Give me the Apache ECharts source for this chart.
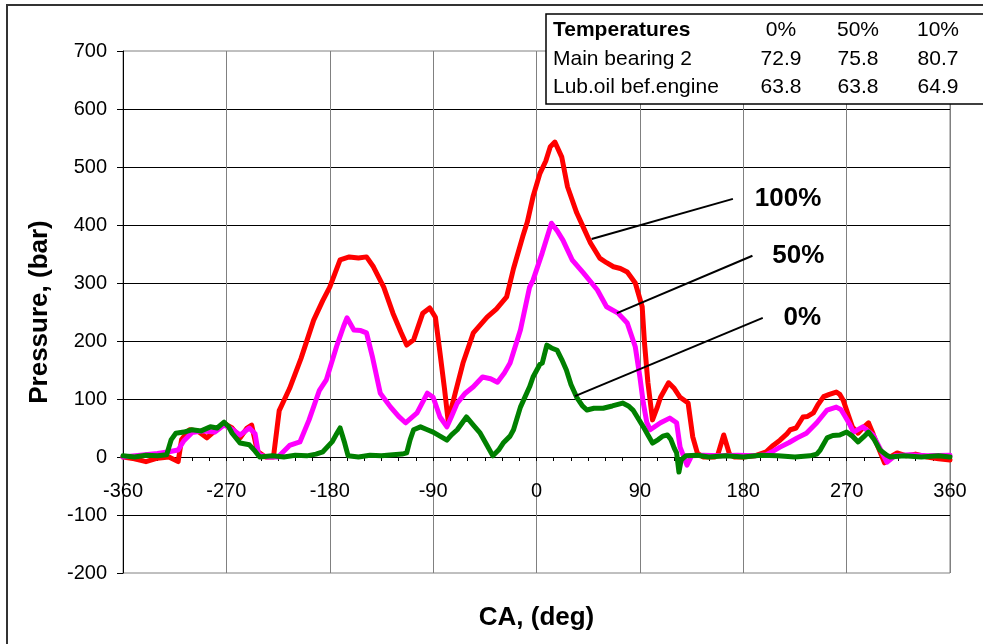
<!DOCTYPE html>
<html>
<head>
<meta charset="utf-8">
<script src="https://cdn.jsdelivr.net/npm/echarts@6/dist/echarts.min.js"></script>
<style>
html,body{margin:0;padding:0;background:#fff;}
#chart{width:983px;height:644px;}
</style>
</head>
<body>
<div id="chart"></div>
<script>
// ---- Data ----
const xTicks = [-360, -270, -180, -90, 0, 90, 180, 270, 360];
const yTicks = [-200, -100, 0, 100, 200, 300, 400, 500, 600, 700];

const red100X = [-360,-350,-340,-330,-320,-312,-309,-305,-302,-295,-287,-280,-272,-265,-258,-252,-248,-243,-236,-229,-224,-215,-205,-194,-186,-180,-171,-163,-155,-148,-142,-133,-125,-118,-113,-107,-99,-93,-88,-84,-80,-77,-73,-64,-55,-43,-35,-26,-20,-12,-8,-3,3,8,12,16,22,27,35,41,47,55,61,67,73,79,86,92,94,97,101,105,108,115,120,125,132,136,140,145,150,155,158,163,168,172,180,190,200,206,212,218,221,226,232,236,241,245,250,255,261,264,267,271,275,280,284,289,293,296,303,308,314,322,330,340,350,360];
const red100Y = [0,-3,-8,-2,0,-8,30,40,47,45,33,45,58,50,33,50,55,10,0,0,80,118,170,236,270,293,340,345,343,345,328,293,248,215,193,202,248,257,241,179,116,64,93,162,214,241,255,276,325,380,405,449,489,510,535,543,517,466,421,395,369,343,335,328,325,319,300,259,197,128,64,85,103,128,118,103,93,35,7,0,0,0,5,38,5,0,0,2,9,20,29,40,47,50,69,70,76,90,104,108,112,108,98,75,52,41,50,59,40,24,-10,0,7,2,5,0,-3,-5];

const mag50X = [-360,-345,-330,-320,-312,-307,-300,-290,-280,-272,-265,-258,-250,-245,-242,-235,-225,-215,-206,-198,-189,-183,-174,-168,-165,-159,-153,-148,-143,-136,-127,-120,-114,-104,-95,-90,-84,-78,-74,-69,-62,-55,-47,-40,-34,-28,-23,-14,-6,-3,5,13,18,23,31,41,53,61,71,79,86,90,93,96,99,108,116,122,125,131,135,145,160,175,190,200,206,212,220,227,235,244,253,261,265,269,273,276,284,293,299,305,312,325,340,360];
const mag50Y = [0,3,6,9,12,28,42,45,43,55,48,38,50,40,5,0,0,20,26,64,115,133,191,225,240,219,218,214,174,110,86,70,59,76,110,103,69,52,70,93,110,121,138,135,129,145,162,219,293,305,352,403,390,374,340,317,288,259,248,231,190,138,93,60,47,59,67,59,17,-14,2,3,2,3,2,4,10,17,25,33,41,59,81,86,82,69,55,43,52,38,15,-9,2,4,2,3];

const grn0X = [-360,-350,-340,-330,-322,-318,-314,-307,-300,-292,-284,-278,-272,-268,-265,-258,-250,-245,-241,-230,-220,-210,-200,-192,-186,-178,-174,-171,-167,-164,-155,-145,-135,-125,-117,-113,-110,-107,-101,-95,-90,-84,-78,-74,-69,-61,-55,-49,-43,-38,-33,-29,-23,-20,-14,-6,-3,3,5,9,13,18,22,26,30,35,40,44,50,58,66,75,80,84,88,93,97,101,106,110,114,117,120,122,124,126,130,140,150,165,180,195,210,225,238,244,247,253,258,264,270,275,280,285,289,294,299,305,308,320,335,350,360];
const grn0Y = [2,0,3,2,4,30,41,43,47,45,52,50,60,52,41,24,21,10,0,2,0,3,2,5,9,26,40,50,24,2,0,3,2,4,5,7,30,47,52,47,43,36,29,38,47,69,55,41,20,2,12,24,36,47,86,121,138,160,162,193,188,184,168,150,125,103,88,81,84,84,88,93,88,81,68,52,38,24,30,36,38,30,15,7,-26,-5,2,3,0,2,0,3,2,0,2,5,12,33,37,38,43,36,26,35,43,30,12,3,0,2,0,2,0];

// call-out labels: [text, line start (deg, bar), line end (deg, bar), label centre (deg, bar)]
const calloutText  = ['100%', '50%', '0%'];
const calloutStart = [[48, 376], [70, 248], [33.5, 105]];
const calloutEnd   = [[171, 445], [188, 347], [197, 240]];
const calloutLabel = [[219, 445], [228, 346], [231.5, 240]];

// temperatures table
const tableHeader = ['Temperatures', '0%', '50%', '10%'];
const tableRows = [
  ['Main bearing 2', '72.9', '75.8', '80.7'],
  ['Lub.oil bef.engine', '63.8', '63.8', '64.9']
];

// ---- Chart ----
const zip = (xs, ys) => xs.map((x, i) => [x, ys[i]]);
const FONT = '"Liberation Sans", Arial, sans-serif';

const chart = echarts.init(document.getElementById('chart'), null, {renderer: 'canvas'});

function seriesOf(name, xs, ys, color) {
  return {
    name: name, type: 'line', data: zip(xs, ys), showSymbol: false, symbol: 'none',
    lineStyle: {color: color, width: 5, join: 'round', cap: 'round'},
    itemStyle: {color: color}, animation: false, z: 3
  };
}

chart.setOption({
  animation: false,
  backgroundColor: '#ffffff',
  grid: {left: 123, top: 51, width: 827, height: 522, show: true, borderColor: '#808080', borderWidth: 1, containLabel: false, outerBoundsMode: 'none'},
  xAxis: {
    type: 'value', min: xTicks[0], max: xTicks[xTicks.length - 1], interval: 90,
    name: 'CA, (deg)', nameLocation: 'middle', nameGap: 32,
    nameTextStyle: {fontFamily: FONT, fontSize: 26, fontWeight: 'bold', color: '#000'},
    axisLine: {show: true, onZero: true, lineStyle: {color: '#000', width: 1}},
    axisTick: {show: true, length: 4, inside: false, lineStyle: {color: '#000'}},
    minorTick: {show: true, splitNumber: 6, length: 4, lineStyle: {color: '#000'}},
    axisLabel: {fontFamily: FONT, fontSize: 20, color: '#000', margin: -92, showMinLabel: true, showMaxLabel: true},
    splitLine: {show: true, lineStyle: {color: '#808080', width: 1}}
  },
  yAxis: {
    type: 'value', min: yTicks[0], max: yTicks[yTicks.length - 1], interval: 100,
    name: 'Pressure, (bar)', nameLocation: 'middle', nameGap: 70, nameRotate: 90,
    nameTextStyle: {fontFamily: FONT, fontSize: 26, fontWeight: 'bold', color: '#000'},
    axisLine: {show: true, onZero: false, lineStyle: {color: '#000', width: 1}},
    axisTick: {show: true, length: 6, inside: false, lineStyle: {color: '#000'}},
    axisLabel: {fontFamily: FONT, fontSize: 20, color: '#000', margin: 16},
    splitLine: {show: true, showMinLine: false, showMaxLine: false, lineStyle: {color: '#000', width: 1}}
  },
  series: [
    seriesOf('100%', red100X, red100Y, '#ff0000'),
    seriesOf('50%', mag50X, mag50Y, '#ff00ff'),
    seriesOf('0%', grn0X, grn0Y, '#008000')
  ]
});

// graphics: frame, call-outs, temperature table
const g = [];
g.push({type: 'rect', shape: {x: 7, y: 5, width: 1100, height: 800}, style: {fill: null, stroke: '#333', lineWidth: 2}, silent: true, z: 100});

for (let i = 0; i < calloutText.length; i++) {
  const p1 = chart.convertToPixel({gridIndex: 0}, calloutStart[i]);
  const p2 = chart.convertToPixel({gridIndex: 0}, calloutEnd[i]);
  const pl = chart.convertToPixel({gridIndex: 0}, calloutLabel[i]);
  g.push({type: 'line', shape: {x1: p1[0], y1: p1[1], x2: p2[0], y2: p2[1]}, style: {stroke: '#000', lineWidth: 2}, z: 100});
  g.push({type: 'text', x: pl[0], y: pl[1], style: {text: calloutText[i], fill: '#000', font: 'bold 26px ' + FONT, align: 'center', verticalAlign: 'middle'}, z: 100});
}

// table
const tX = 546, tY = 14, tH = 90;
const colCenters = [781, 858, 938];
const rowY = [30, 59, 87];
g.push({type: 'rect', shape: {x: tX, y: tY, width: 600, height: tH}, style: {fill: '#fff', stroke: '#000', lineWidth: 1.5}, z: 110});
const allRows = [tableHeader].concat(tableRows);
allRows.forEach((row, r) => {
  g.push({type: 'text', x: 553, y: rowY[r], style: {text: row[0], fill: '#000', font: (r === 0 ? 'bold ' : '') + '21px ' + FONT, align: 'left', verticalAlign: 'middle'}, z: 120});
  for (let c = 1; c < row.length; c++) {
    g.push({type: 'text', x: colCenters[c - 1], y: rowY[r], style: {text: row[c], fill: '#000', font: '21px ' + FONT, align: 'center', verticalAlign: 'middle'}, z: 120});
  }
});

chart.setOption({graphic: g});
</script>
</body>
</html>
